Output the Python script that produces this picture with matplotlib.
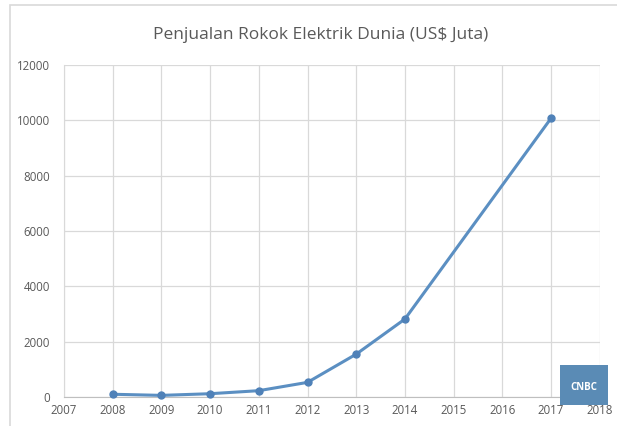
import numpy as np
import matplotlib.pyplot as plt
from matplotlib.patches import Rectangle

tahun = [2008, 2009, 2010, 2011, 2012, 2013, 2014, 2017]
penjualan = [100, 60, 120, 230, 530, 1550, 2820, 10080]

x_ticks = list(range(2007, 2019))
y_ticks = [0, 2000, 4000, 6000, 8000, 10000, 12000]

warna_garis = '#5b8fc2'
warna_teks = '#595959'

plt.rcParams['font.family'] = ['Open Sans', 'DejaVu Sans']

fig = plt.figure(figsize=(6.17, 4.26), dpi=100)
ax = fig.add_axes([0.1037, 0.068, 0.8683, 0.779])

ax.plot(tahun, penjualan, color=warna_garis, linewidth=2.2, marker='o',
        markersize=5, markerfacecolor='#4f81b8', markeredgecolor='#4f81b8',
        zorder=3, clip_on=False)

ax.set_xlim(2007, 2018)
ax.set_ylim(0, 12000)
ax.set_xticks(x_ticks)
ax.set_yticks(y_ticks)
ax.tick_params(axis='both', length=0, labelsize=8.3, colors=warna_teks, pad=5)
ax.tick_params(axis='y', pad=10)
ax.grid(True, color='#d9d9d9', linewidth=0.9)
ax.set_axisbelow(True)
for s in ['top', 'right']:
    ax.spines[s].set_visible(False)
ax.spines['left'].set_color('#d9d9d9')
ax.spines['bottom'].set_color('#bfbfbf')

fig.text(0.519, 0.918, 'Penjualan Rokok Elektrik Dunia (US$ Juta)',
         ha='center', va='center', fontsize=12.5, color=warna_teks)

# bingkai grafik
fig.patches.append(Rectangle((10 / 617, -0.01), 1.0, 1 - 5 / 426 + 0.01,
                             transform=fig.transFigure, fill=False,
                             edgecolor='#d9d9d9', linewidth=1.2))

# logo CNBC
fig.patches.append(Rectangle((560 / 617, 21 / 426), 48 / 617, 40 / 426,
                             transform=fig.transFigure, facecolor='#5a8bb5',
                             edgecolor='none', zorder=5))
fig.text(584 / 617, 38 / 426, 'CNBC', ha='center', va='center', fontsize=7,
         color='white', fontweight='bold', zorder=6)

fig.savefig('out.png', dpi=100)
